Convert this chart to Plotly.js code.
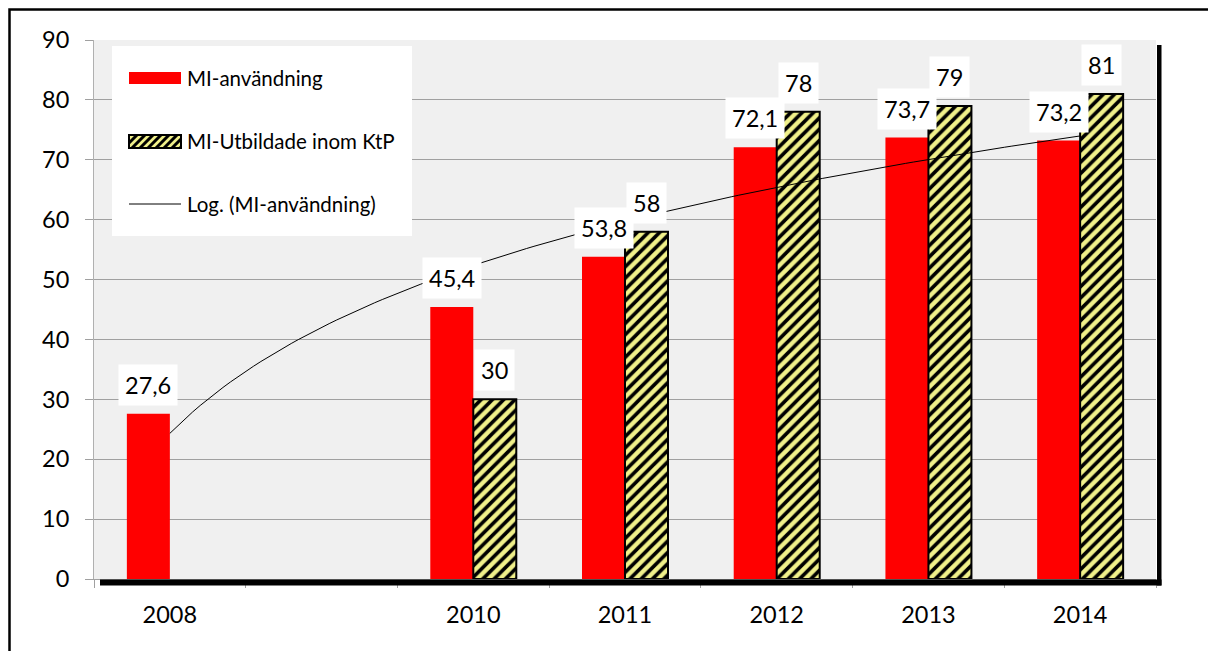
<!DOCTYPE html>
<html>
<head>
<meta charset="utf-8">
<script src="https://cdn.plot.ly/plotly-3.0.1.min.js"></script>
<style>html,body{margin:0;padding:0;background:#fff;}#chart{width:1208px;height:651px;}</style>
</head>
<body>
<div id="chart"></div>
<script>
// ---- data ----
const categories = ['2008', '2009', '2010', '2011', '2012', '2013', '2014'];
const tickLabels = ['2008', '', '2010', '2011', '2012', '2013', '2014'];
const miAnvandning = [27.6, null, 45.4, 53.8, 72.1, 73.7, 73.2];
const miUtbildade = [null, null, 30, 58, 78, 79, 81];
const seriesNames = ['MI-användning', 'MI-Utbildade inom KtP', 'Log. (MI-användning)'];

// ---- layout geometry (pixels) ----
const W = 1208, H = 651;
const L = 94, R = 52, T = 40, B = 72;
const PW = W - L - R, PH = H - T - B;
const px = x => (x - L) / PW;
const py = y => (H - B - y) / PH;
const FONT = 'Lato, "Open Sans", sans-serif';

const xIdx = categories.map((c, i) => i);

// logarithmic trendline (least squares y = a*ln(x) + b, x = 1..n like Excel)
const pts = [];
miAnvandning.forEach((v, i) => { if (v !== null) pts.push([Math.log(i + 1), v]); });
const mx = pts.reduce((s, p) => s + p[0], 0) / pts.length;
const my = pts.reduce((s, p) => s + p[1], 0) / pts.length;
let sxy = 0, sxx = 0;
pts.forEach(p => { sxy += (p[0] - mx) * (p[1] - my); sxx += (p[0] - mx) ** 2; });
const a = sxy / sxx, b = my - a * mx;
const trendX = [], trendY = [];
for (let k = 0; k <= 120; k++) {
  const x = k * (categories.length - 1) / 120;
  trendX.push(x);
  trendY.push(a * Math.log(x + 1) + b);
}

const fmt = v => String(v).replace('.', ',');

const traces = [
  {
    type: 'bar', name: seriesNames[0], x: xIdx, y: miAnvandning,
    marker: { color: '#ff0000', line: { width: 0 } }, hoverinfo: 'skip'
  },
  {
    type: 'bar', name: seriesNames[1], x: xIdx, y: miUtbildade,
    marker: {
      color: '#f0f08a',
      line: { color: '#000000', width: 2 },
      pattern: { shape: '/', bgcolor: '#f0f08a', fgcolor: '#000000', size: 8, solidity: 0.45 }
    }, hoverinfo: 'skip'
  },
  {
    type: 'scatter', mode: 'lines', name: seriesNames[2], x: trendX, y: trendY,
    line: { color: '#000000', width: 1 }, hoverinfo: 'skip'
  }
];

const barW = 43 / (PW / categories.length);
const annotations = [];
const LBL = { family: FONT, size: 23.5, color: '#000' };
miAnvandning.forEach((v, i) => {
  if (v === null) return;
  annotations.push({ x: i - barW / 2, y: v, xref: 'x', yref: 'y', text: fmt(v), showarrow: false,
    yanchor: 'bottom', yshift: 8, bgcolor: '#ffffff', borderpad: 6, font: LBL });
});
miUtbildade.forEach((v, i) => {
  if (v === null) return;
  annotations.push({ x: i + barW / 2, y: v, xref: 'x', yref: 'y', text: fmt(v), showarrow: false,
    yanchor: 'bottom', yshift: 8, bgcolor: '#ffffff', borderpad: 6, font: LBL });
});

// manual legend
const legendText = [[seriesNames[0], 78], [seriesNames[1], 141], [seriesNames[2], 204]];
legendText.forEach(([t, y]) => {
  annotations.push({ xref: 'paper', yref: 'paper', x: px(185), y: py(y), xanchor: 'left', yanchor: 'middle',
    text: t, showarrow: false, font: { family: FONT, size: 20.5, color: '#000' } });
});

const shapes = [
  // legend background
  { type: 'rect', xref: 'paper', yref: 'paper', x0: px(112), x1: px(412), y0: py(46), y1: py(236),
    fillcolor: '#ffffff', line: { width: 0 }, layer: 'above' },
  // legend swatches
  { type: 'rect', xref: 'paper', yref: 'paper', x0: px(129), x1: px(181), y0: py(72), y1: py(84),
    fillcolor: '#ff0000', line: { width: 0 }, layer: 'above' },
  { type: 'rect', xref: 'paper', yref: 'paper', x0: px(129), x1: px(181), y0: py(135), y1: py(148),
    fillcolor: '#f0f08a', line: { width: 0 }, layer: 'above' },
];
// hatch stripes of the legend swatch
for (let s = 129 - 13; s < 181; s += 8) {
  let x0 = s, y0 = 148, x1 = s + 13, y1 = 135;
  if (x0 < 129) { y0 -= (129 - x0); x0 = 129; }
  if (x1 > 181) { y1 += (x1 - 181); x1 = 181; }
  if (x1 <= x0) continue;
  shapes.push({ type: 'line', xref: 'paper', yref: 'paper', x0: px(x0), y0: py(y0), x1: px(x1), y1: py(y1),
    line: { color: '#000', width: 3 }, layer: 'above' });
}
shapes.push(
  { type: 'rect', xref: 'paper', yref: 'paper', x0: px(129), x1: px(181), y0: py(135), y1: py(148),
    fillcolor: 'rgba(0,0,0,0)', line: { color: '#000', width: 2 }, layer: 'above' },
  { type: 'line', xref: 'paper', yref: 'paper', x0: px(129), x1: px(181), y0: py(204), y1: py(204),
    line: { color: '#000', width: 1 }, layer: 'above' },
  // thick black axis "shadow"
  { type: 'rect', xref: 'paper', yref: 'paper', x0: px(100), x1: px(1161.5), y0: py(579.5), y1: py(585.5),
    fillcolor: '#000', line: { width: 0 }, layer: 'above' },
  { type: 'rect', xref: 'paper', yref: 'paper', x0: px(1157), x1: px(1161.5), y0: py(45), y1: py(585.5),
    fillcolor: '#000', line: { width: 0 }, layer: 'above' },
  // outer chart border
  { type: 'rect', xref: 'paper', yref: 'paper', x0: px(9.5), x1: px(1230), y0: py(9.5), y1: py(680),
    fillcolor: 'rgba(0,0,0,0)', line: { color: '#000', width: 2.5 }, layer: 'above' }
);

const layout = {
  width: W, height: H,
  margin: { l: L, r: R, t: T, b: B, pad: 0 },
  paper_bgcolor: '#ffffff',
  plot_bgcolor: '#f0f0f0',
  showlegend: false,
  barmode: 'group',
  bargap: 1 - 2 * barW,
  bargroupgap: 0,
  font: { family: FONT, color: '#000' },
  xaxis: {
    range: [-0.5, categories.length - 0.5],
    tickmode: 'array', tickvals: xIdx, ticktext: tickLabels,
    ticks: '', showgrid: false, zeroline: false,
    showline: true, linecolor: '#a0a0a0', linewidth: 1,
    tickfont: { family: FONT, size: 23.5, color: '#000' },
    ticklabelstandoff: 15,
    minor: { tickmode: 'linear', tick0: -0.5, dtick: 1, ticks: 'outside', ticklen: 8, tickcolor: '#a0a0a0', tickwidth: 1, showgrid: false }
  },
  yaxis: {
    range: [0, 90], tickmode: 'linear', tick0: 0, dtick: 10,
    ticks: 'outside', ticklen: 8, tickcolor: '#a0a0a0', tickwidth: 1,
    showgrid: true, gridcolor: '#a0a0a0', gridwidth: 1.2, zeroline: false,
    showline: true, linecolor: '#b0b0b0', linewidth: 1,
    tickfont: { family: FONT, size: 23.5, color: '#000' },
    ticklabelstandoff: 11
  },
  annotations: annotations,
  shapes: shapes
};

Plotly.newPlot('chart', traces, layout, { staticPlot: true, displayModeBar: false });
</script>
</body>
</html>
